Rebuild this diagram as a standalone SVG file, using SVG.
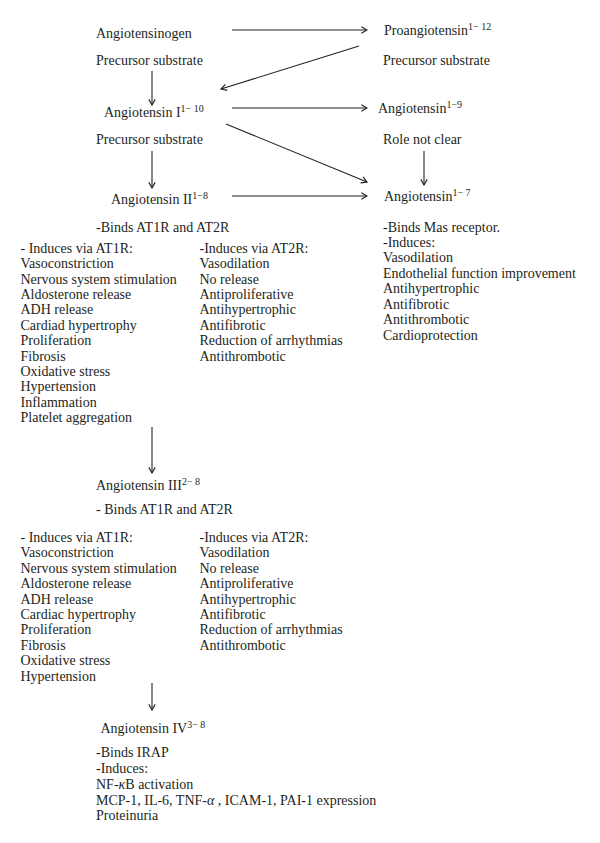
<svg xmlns="http://www.w3.org/2000/svg" width="600" height="843" viewBox="0 0 600 843">
<style>
text{font-family:"Liberation Serif","Times New Roman",serif;font-size:14px;fill:#231f20}
.sup{font-size:10px}
.c line{stroke:#231f20;stroke-width:1.1;fill:none;marker-end:url(#ah)}
</style>
<defs>
<marker id="ah" viewBox="0 0 10 10" refX="9" refY="5" markerWidth="8" markerHeight="8" markerUnits="userSpaceOnUse" orient="auto">
<path d="M2,1 L9,5 L2,9" fill="none" stroke="#231f20" stroke-width="1.4"/>
</marker>
</defs>
<rect width="600" height="843" fill="#fff"/>
<g id="connectors" class="c">
<line x1="232" y1="30" x2="367" y2="30"/>
<line x1="359" y1="46" x2="221" y2="89"/>
<line x1="152" y1="71" x2="152" y2="105"/>
<line x1="232" y1="108" x2="367" y2="108"/>
<line x1="226" y1="124" x2="367" y2="182"/>
<line x1="424" y1="151" x2="424" y2="185"/>
<line x1="152" y1="151" x2="152" y2="188"/>
<line x1="232" y1="196" x2="367" y2="196"/>
<line x1="152" y1="427" x2="152" y2="473"/>
<line x1="152" y1="683" x2="152" y2="710"/>
</g>
<g id="angiotensinogen">
<text x="96" y="37.5">Angiotensinogen</text>
<text x="96" y="65">Precursor substrate</text>
</g>
<g id="proangiotensin">
<text x="384" y="34.5">Proangiotensin<tspan class="sup" dy="-5">1− 12</tspan></text>
<text x="383" y="65">Precursor substrate</text>
</g>
<g id="angiotensin-i">
<text x="104" y="117">Angiotensin I<tspan class="sup" dy="-5">1− 10</tspan></text>
<text x="96" y="144">Precursor substrate</text>
</g>
<g id="angiotensin-1-9">
<text x="378" y="112.5">Angiotensin<tspan class="sup" dy="-5">1−9</tspan></text>
<text x="383" y="144">Role not clear</text>
</g>
<g id="angiotensin-ii">
<text x="111" y="204">Angiotensin II<tspan class="sup" dy="-5">1−8</tspan></text>
<text x="96" y="232">-Binds AT1R and AT2R</text>
<text x="20.5" y="253">- Induces via AT1R:</text>
<text x="20.5" y="268.4">Vasoconstriction</text>
<text x="20.5" y="283.7">Nervous system stimulation</text>
<text x="20.5" y="299">Aldosterone release</text>
<text x="20.5" y="314.4">ADH release</text>
<text x="20.5" y="329.8">Cardiad hypertrophy</text>
<text x="20.5" y="345.1">Proliferation</text>
<text x="20.5" y="360.5">Fibrosis</text>
<text x="20.5" y="375.8">Oxidative stress</text>
<text x="20.5" y="391.2">Hypertension</text>
<text x="20.5" y="406.5">Inflammation</text>
<text x="20.5" y="421.9">Platelet aggregation</text>
<text x="199.5" y="253">-Induces via AT2R:</text>
<text x="199.5" y="268.4">Vasodilation</text>
<text x="199.5" y="283.7">No release</text>
<text x="199.5" y="299">Antiproliferative</text>
<text x="199.5" y="314.4">Antihypertrophic</text>
<text x="199.5" y="329.8">Antifibrotic</text>
<text x="199.5" y="345.1">Reduction of arrhythmias</text>
<text x="199.5" y="360.5">Antithrombotic</text>
</g>
<g id="angiotensin-1-7">
<text x="384" y="200.5">Angiotensin<tspan class="sup" dy="-5">1− 7</tspan></text>
<text x="383" y="231.5">-Binds Mas receptor.</text>
<text x="383" y="246.5">-Induces:</text>
<text x="383" y="262">Vasodilation</text>
<text x="383" y="277.5">Endothelial function improvement</text>
<text x="383" y="293">Antihypertrophic</text>
<text x="383" y="308.5">Antifibrotic</text>
<text x="383" y="324">Antithrombotic</text>
<text x="383" y="339.5">Cardioprotection</text>
</g>
<g id="angiotensin-iii">
<text x="96" y="490">Angiotensin III<tspan class="sup" dy="-5">2− 8</tspan></text>
<text x="96" y="514">- Binds AT1R and AT2R</text>
<text x="20.5" y="542">- Induces via AT1R:</text>
<text x="20.5" y="557.4">Vasoconstriction</text>
<text x="20.5" y="572.8">Nervous system stimulation</text>
<text x="20.5" y="588.2">Aldosterone release</text>
<text x="20.5" y="603.6">ADH release</text>
<text x="20.5" y="619">Cardiac hypertrophy</text>
<text x="20.5" y="634.4">Proliferation</text>
<text x="20.5" y="649.8">Fibrosis</text>
<text x="20.5" y="665.2">Oxidative stress</text>
<text x="20.5" y="680.6">Hypertension</text>
<text x="199.5" y="542">-Induces via AT2R:</text>
<text x="199.5" y="557.4">Vasodilation</text>
<text x="199.5" y="572.8">No release</text>
<text x="199.5" y="588.2">Antiproliferative</text>
<text x="199.5" y="603.6">Antihypertrophic</text>
<text x="199.5" y="619">Antifibrotic</text>
<text x="199.5" y="634.4">Reduction of arrhythmias</text>
<text x="199.5" y="649.8">Antithrombotic</text>
</g>
<g id="angiotensin-iv">
<text x="100.5" y="733">Angiotensin IV<tspan class="sup" dy="-5">3− 8</tspan></text>
<text x="96" y="757">-Binds IRAP</text>
<text x="96" y="773">-Induces:</text>
<text x="96" y="789">NF-<tspan font-style="italic">κ</tspan>B activation</text>
<text x="96" y="804.5">MCP-1, IL-6, TNF-<tspan font-style="italic">α</tspan> , ICAM-1, PAI-1 expression</text>
<text x="96" y="820">Proteinuria</text>
</g>
</svg>
